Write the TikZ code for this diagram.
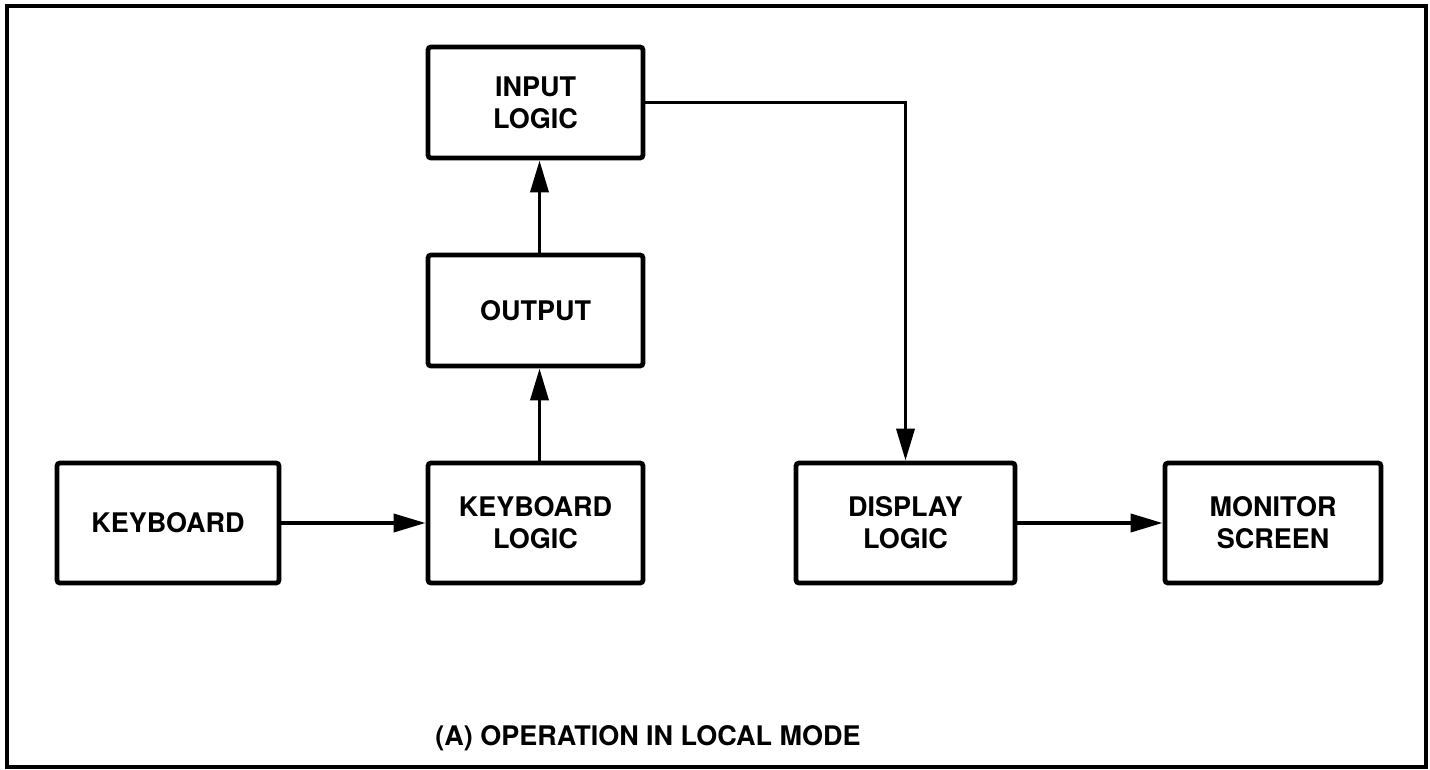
\documentclass[tikz,border=0pt]{standalone}
\usepackage{fontspec}
\setmainfont{TeX Gyre Heros}
\usetikzlibrary{arrows.meta}
\begin{document}
\begin{tikzpicture}[x=0.5pt,y=-0.5pt,
  blk/.style={draw,line width=2.4pt,rounded corners=1.5pt,inner sep=0pt,
    font=\fontsize{13.5}{16}\selectfont\bfseries,align=center},
  conn/.style={line width=1.9pt,-{Triangle[length=16pt,width=9pt]}}]
\useasboundingbox (0,0) rectangle (1430,770);
\draw[line width=1.9pt] (7,6) rectangle (1426,767);
\node[blk,minimum width=111pt,minimum height=60pt] (kb) at (168,523) {KEYBOARD};
\node[blk,minimum width=107.5pt,minimum height=60pt] (kl) at (535.5,523) {KEYBOARD\\LOGIC};
\node[blk,minimum width=107.5pt,minimum height=55.5pt] (out) at (535.5,310.5) {OUTPUT};
\node[blk,minimum width=107.5pt,minimum height=55.5pt] (il) at (535.5,102.5) {INPUT\\LOGIC};
\node[blk,minimum width=109.5pt,minimum height=60pt] (dl) at (905.5,523) {DISPLAY\\LOGIC};
\node[blk,minimum width=108pt,minimum height=60pt] (ms) at (1273,523) {MONITOR\\SCREEN};
\node[font=\fontsize{13.5}{16}\selectfont\bfseries] (cap) at (648,738) {(A) OPERATION IN LOCAL MODE};
\draw[conn] (kb) -- (kl);
\draw[conn] ([xshift=2pt]kl.north) -- ([xshift=2pt]out.south);
\draw[conn] ([xshift=2pt]out.north) -- ([xshift=2pt]il.south);
\draw[conn] (il.east) -| (dl.north);
\draw[conn] (dl) -- (ms);
\end{tikzpicture}
\end{document}
